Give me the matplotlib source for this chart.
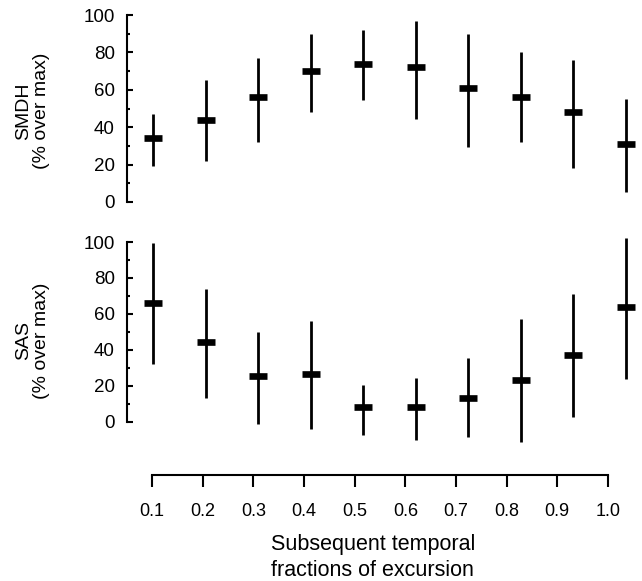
#! /usr/bin/env python3
# Two-panel error bar chart: SMDH and SAS over subsequent fractions of excursion.
import matplotlib
matplotlib.use('Agg')
import matplotlib.pyplot as plt
from matplotlib.ticker import FixedLocator

# Data.
fractions = [0.1, 0.2, 0.3, 0.4, 0.5, 0.6, 0.7, 0.8, 0.9, 1.0]
tick_labels = ['0.1', '0.2', '0.3', '0.4', '0.5', '0.6', '0.7', '0.8', '0.9', '1.0']

smdh_mean = [34, 44, 56, 70, 74, 72, 61, 56, 48, 31]
smdh_low = [19, 22, 32, 48, 54.5, 44.5, 29.5, 32, 18, 5.5]
smdh_high = [47, 65, 77, 90, 92, 97, 90, 80, 76, 55]

sas_mean = [66, 44.5, 25.5, 26.5, 8.5, 8.5, 13.5, 23.5, 37.5, 64]
sas_low = [32, 13.5, -1, -4, -7, -10, -8.5, -11, 3, 24]
sas_high = [99.5, 74, 50, 56, 20.5, 24.5, 35.5, 57.5, 71, 102]

W, H = 642, 581

plt.rcParams['font.family'] = ['Liberation Sans', 'DejaVu Sans']
fig = plt.figure(figsize=(W / 100, H / 100), dpi=100)


def px_axes(left, top, right, bottom):
    """Adds axes given by pixel edges (origin top-left)."""
    return fig.add_axes([left / W, 1 - bottom / H, (right - left) / W, (bottom - top) / H])


def panel(ax, mean, low, high, ylim, label):
    """Draws one panel of mean markers with low-high ranges."""
    lower = [m - l for m, l in zip(mean, low)]
    upper = [h - m for m, h in zip(mean, high)]
    ax.errorbar(fractions, mean, yerr=[lower, upper], fmt='_', color='black',
                ecolor='black', elinewidth=2, ms=12.5, mew=4.8, capsize=0,
                clip_on=False)
    ax.set_xlim(0.0494, 1.0267)
    ax.set_ylim(*ylim)
    for s in ['top', 'right', 'bottom']:
        ax.spines[s].set_visible(False)
    ax.spines['left'].set_bounds(0, 100)
    ax.spines['left'].set_linewidth(1.5)
    ax.set_xticks([])
    ax.set_yticks(range(0, 101, 20))
    ax.yaxis.set_minor_locator(FixedLocator(range(10, 100, 20)))
    ax.tick_params(axis='y', which='both', direction='in', width=1.5,
                   labelsize=13.5, pad=8.5)
    ax.tick_params(axis='y', which='major', length=4)
    ax.tick_params(axis='y', which='minor', length=2)
    ax.set_ylabel(label, fontsize=14, linespacing=1.05)
    ax.yaxis.set_label_coords(-0.149, 0.5)
    ax.patch.set_visible(False)


# Top panel: SMDH
ax1 = px_axes(126.7, 11.26, 640, 211.35)
panel(ax1, smdh_mean, smdh_low, smdh_high, (-5, 102), 'SMDH\n(% over max)')

# Bottom panel: SAS
ax2 = px_axes(126.7, 234.8, 640, 447.2)
panel(ax2, sas_mean, sas_low, sas_high, (-14, 104), 'SAS\n(% over max)')

# Shared x axis drawn on its own below the panels.
axx = px_axes(126.7, 470, 633.3, 475)
axx.set_xlim(0.05, 1.05)
for s in ['top', 'right', 'left']:
    axx.spines[s].set_visible(False)
axx.spines['bottom'].set_bounds(0.1, 1.0)
axx.spines['bottom'].set_linewidth(1.5)
axx.set_yticks([])
axx.set_xticks(fractions)
axx.set_xticklabels(tick_labels)
axx.tick_params(axis='x', direction='out', length=8.5, width=1.5, pad=11.5,
                labelsize=13)
axx.set_xlabel('Subsequent temporal\nfractions of excursion', fontsize=15.5,
               linespacing=1.35, labelpad=10, x=0.486)
axx.patch.set_visible(False)

fig.savefig('out.png', dpi=100)
